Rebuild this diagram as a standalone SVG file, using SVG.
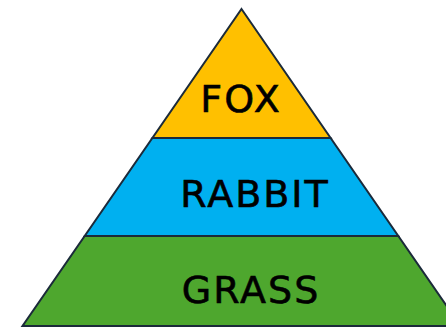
<svg xmlns="http://www.w3.org/2000/svg" width="446" height="327" viewBox="0 0 446 327">
<style>
.tier{stroke:#1b2a3a;stroke-width:2;stroke-linejoin:miter}
.lbl{font-family:"DejaVu Sans",sans-serif;font-size:38px;fill:#000;stroke:#000;stroke-width:0.6;text-anchor:middle;letter-spacing:2px}
</style>
<rect width="446" height="327" fill="#fff"/>
<g id="grass">
<polygon class="tier" fill="#4ea72e" points="84.7,236 398.3,236 460.5,326 22.5,326"/>
<text class="lbl" x="251" y="303">GRASS</text>
</g>
<g id="rabbit">
<polygon class="tier" fill="#00b0f0" points="152.4,138 330.6,138 398.3,236 84.7,236"/>
<text class="lbl" x="255" y="207">RABBIT</text>
</g>
<g id="fox">
<polygon class="tier" fill="#ffc000" points="241.5,9 330.6,138 152.4,138"/>
<text class="lbl" x="241" y="112">FOX</text>
</g>
</svg>
